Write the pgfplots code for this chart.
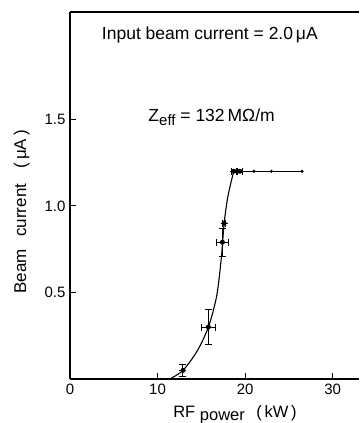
\documentclass[border=0pt]{standalone}
\usepackage{pgfplots}
\pgfplotsset{compat=1.18}
\usepackage{fontspec}
\setmainfont{Liberation Sans}
\begin{document}
\begin{tikzpicture}
\begin{axis}[
  scale only axis, width=289pt, height=367pt,
  xmin=0, xmax=33, ymin=0, ymax=2.12,
  clip=false,
  axis x line*=bottom, axis y line*=left,
  axis line style={line width=1.3pt},
  xtick={0,10,20,30},
  ytick={0.5,1,1.5}, yticklabels={0.5,1.0,1.5},
  tick align=inside, major tick length=6pt,
  tick style={line width=1pt, black},
  ticklabel style={font=\fontsize{15}{15}\selectfont},
  /pgf/number format/assume math mode=true,
  xticklabel style={yshift=-1pt},
  yticklabel style={xshift=-1pt},
]
\draw[line width=1.3pt] (rel axis cs:0,1) -- (rel axis cs:1,1);
% smooth curve
\addplot[black, line width=1.1pt, smooth, tension=0.5, mark=none] coordinates {
  (11.4,0) (12.9,0.05) (14.5,0.16) (15.8,0.30) (16.75,0.48) (17.3,0.71) (17.6,0.90) (18.05,1.06) (18.7,1.20)
};
\addplot[black, line width=1.1pt, mark=*, mark size=0.9pt] coordinates {
  (18.7,1.20) (19.4,1.20) (21,1.20) (23,1.20) (26.5,1.20)
};
% error bars
\addplot[black, only marks, mark=none, line width=1pt,
  error bars/.cd, x dir=both, x explicit, y dir=both, y explicit,
  error bar style={line width=1pt},
  error mark options={rotate=90, mark size=3.5pt, line width=1pt}]
  coordinates {
  (12.9,0.05) +- (0,0.035)
  (15.8,0.30) +- (0.8,0.10)
  (17.4,0.79) +- (0.7,0.08)
  (17.6,0.90) +- (0.2,0)
  (18.7,1.20) +- (0.3,0)
  (19.4,1.20) +- (0.3,0)
};
\node[font=\fontsize{17.5}{17.5}\selectfont] at (axis description cs:0.484,0.937) {Input beam current = 2.0\,μA};
\node[font=\fontsize{17.5}{17.5}\selectfont] at (axis description cs:0.49,0.714) {Z{\fontsize{15}{15}\selectfont\raisebox{-4pt}{eff}} = 132\,MΩ/m};
\node[font=\fontsize{17}{17}\selectfont, rotate=90] at (axis description cs:-0.167,0.455) {Beam\hspace{0.75em}current\hspace{0.9em}(\,μA\,)};
\node[font=\fontsize{16.5}{16.5}\selectfont, anchor=base] at (axis description cs:0.571,-0.105) {RF \raisebox{-3pt}{power}\hspace{0.7em}(\,kW\,)};
\end{axis}
\pgfresetboundingbox
\useasboundingbox (-70pt,-44pt) rectangle (289pt,379pt);
\end{tikzpicture}
\end{document}
